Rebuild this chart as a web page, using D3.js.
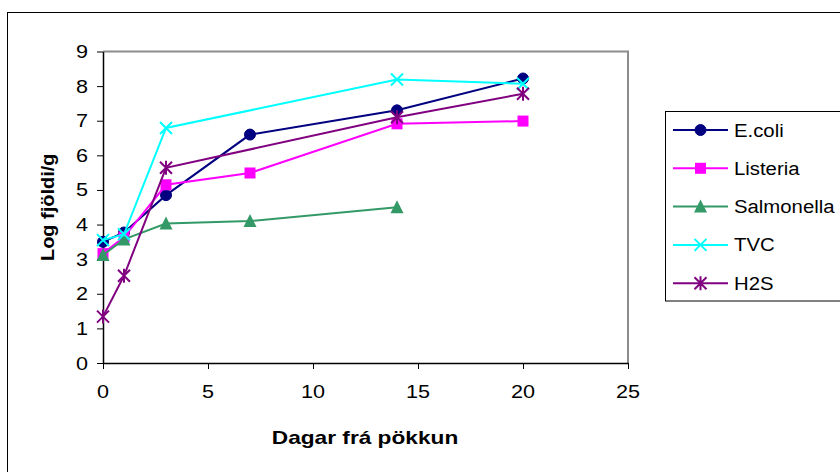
<!DOCTYPE html>
<html>
<head>
<meta charset="utf-8">
<script src="https://cdn.jsdelivr.net/npm/d3@7"></script>
<style>
  html, body { margin: 0; padding: 0; background: #fff; }
  svg { display: block; font-family: "Liberation Sans", Arial, sans-serif; }
</style>
</head>
<body>
<svg id="chart" width="840" height="472"></svg>
<script>
// Bacterial counts (log CFU/g) by days since salting
const ecoliDays = [0, 1, 3, 7, 14, 20];
const ecoliVals = [3.5, 3.77, 4.85, 6.6, 7.3, 8.22];

const listeriaDays = [0, 1, 3, 7, 14, 20];
const listeriaVals = [3.16, 3.64, 5.15, 5.49, 6.91, 6.99];

const salmonellaDays = [0, 1, 3, 7, 14];
const salmonellaVals = [3.12, 3.57, 4.03, 4.1, 4.5];

const tvcDays = [0, 1, 3, 14, 20];
const tvcVals = [3.55, 3.72, 6.79, 8.19, 8.07];

const h2sDays = [0, 1, 3, 14, 20];
const h2sVals = [1.34, 2.52, 5.64, 7.1, 7.78];

const seriesNames = ["E.coli", "Listeria", "Salmonella", "TVC", "H2S"];
const xTicks = [0, 5, 10, 15, 20, 25];
const yTicks = [0, 1, 2, 3, 4, 5, 6, 7, 8, 9];

const series = [
  { name: seriesNames[0], days: ecoliDays, vals: ecoliVals, color: "#000080", marker: "circle" },
  { name: seriesNames[1], days: listeriaDays, vals: listeriaVals, color: "#FF00FF", marker: "square" },
  { name: seriesNames[2], days: salmonellaDays, vals: salmonellaVals, color: "#339966", marker: "triangle" },
  { name: seriesNames[3], days: tvcDays, vals: tvcVals, color: "#00FFFF", marker: "x" },
  { name: seriesNames[4], days: h2sDays, vals: h2sVals, color: "#800080", marker: "star" }
];

const svg = d3.select("#chart");

// outer chart frame
svg.append("rect")
  .attr("x", 7.5).attr("y", 12.5)
  .attr("width", 840).attr("height", 470)
  .attr("fill", "#fff").attr("stroke", "#000").attr("stroke-width", 1);

const plot = { left: 103, right: 628, top: 51.5, bottom: 363 };

const x = d3.scaleLinear().domain([0, 25]).range([plot.left, plot.right]);
const y = d3.scaleLinear().domain([0, 9]).range([plot.bottom, plot.top]);

// wide-set label: text placed at (px,py) and stretched horizontally by sx
function wideText(parent, px, py, str, opts) {
  const g = parent.append("g").attr("transform", `translate(${px},${py})`);
  const t = g.append("text")
    .attr("transform", `scale(${opts.sx},1)`)
    .attr("text-anchor", opts.anchor || "start")
    .attr("fill", "#000")
    .style("font-size", (opts.size || 18) + "px")
    .style("font-weight", opts.bold ? "bold" : "normal")
    .text(str);
  return t;
}

// plot area border (grey top and right)
svg.append("path")
  .attr("d", `M${plot.left},${plot.top}H${plot.right}V${plot.bottom}`)
  .attr("fill", "none").attr("stroke", "#8c8c8c").attr("stroke-width", 2);

// axes (lines and ticks from d3, labels set wide below)
const xAxis = svg.append("g")
  .attr("transform", `translate(0,${plot.bottom})`)
  .call(d3.axisBottom(x).tickValues(xTicks).tickSize(6).tickFormat("").tickSizeOuter(0));
const yAxis = svg.append("g")
  .attr("transform", `translate(${plot.left},0)`)
  .call(d3.axisLeft(y).tickValues(yTicks).tickSize(6).tickFormat("").tickSizeOuter(0));

[xAxis, yAxis].forEach(a => {
  a.select(".domain").attr("stroke", "#000").attr("stroke-width", 1.5);
  a.selectAll(".tick line").attr("stroke", "#000").attr("stroke-width", 1);
});

xTicks.forEach(v => wideText(svg, x(v), 398, String(v), { sx: 1.2, anchor: "middle" }));
yTicks.forEach(v => wideText(svg, 88, y(v) + 6.5, String(v), { sx: 1.2, anchor: "end" }));

// axis titles
wideText(svg, (plot.left + plot.right) / 2 - 0.5, 444, "Dagar frá pökkun",
  { sx: 1.26, anchor: "middle", bold: true });

svg.append("g")
  .attr("transform", `translate(54,${(plot.top + plot.bottom) / 2}) rotate(-90)`)
  .append("text")
  .attr("transform", "scale(1.11,1)")
  .attr("text-anchor", "middle")
  .style("font-size", "18px").style("font-weight", "bold")
  .text("Log fjöldi/g");

// marker drawing
function drawMarker(g, type, color) {
  if (type === "circle") {
    g.append("circle").attr("r", 5.5).attr("fill", color).attr("stroke", color);
  } else if (type === "square") {
    g.append("rect").attr("x", -5.5).attr("y", -5.5).attr("width", 11).attr("height", 11)
      .attr("fill", color);
  } else if (type === "triangle") {
    g.append("path").attr("d", "M0,-7L6.5,6L-6.5,6Z").attr("fill", color);
  } else if (type === "x") {
    g.append("path").attr("d", "M-6,-6L6,6M-6,6L6,-6")
      .attr("stroke", color).attr("stroke-width", 2).attr("fill", "none");
  } else if (type === "star") {
    g.append("path").attr("d", "M-6,-6L6,6M-6,6L6,-6M0,-7V7")
      .attr("stroke", color).attr("stroke-width", 2).attr("fill", "none");
  }
}

const line = d3.line().x(d => x(d[0])).y(d => y(d[1]));

series.forEach(s => {
  const pts = s.days.map((d, i) => [d, s.vals[i]]);
  svg.append("path")
    .attr("d", line(pts))
    .attr("fill", "none").attr("stroke", s.color).attr("stroke-width", 2);
  pts.forEach(p => {
    const g = svg.append("g").attr("transform", `translate(${x(p[0])},${y(p[1])})`);
    drawMarker(g, s.marker, s.color);
  });
});

// legend
const legend = svg.append("g");
legend.append("rect")
  .attr("x", 665.5).attr("y", 111.5)
  .attr("width", 200).attr("height", 189.5)
  .attr("fill", "#fff").attr("stroke", "#000").attr("stroke-width", 1);

series.forEach((s, i) => {
  const cy = 130 + i * 38.3;
  const g = legend.append("g");
  g.append("line").attr("x1", 673).attr("x2", 728).attr("y1", cy).attr("y2", cy)
    .attr("stroke", s.color).attr("stroke-width", 2);
  drawMarker(g.append("g").attr("transform", `translate(700.5,${cy})`), s.marker, s.color);
  wideText(g, 734, cy + 6.5, s.name, { sx: 1.13 });
});
</script>
</body>
</html>
